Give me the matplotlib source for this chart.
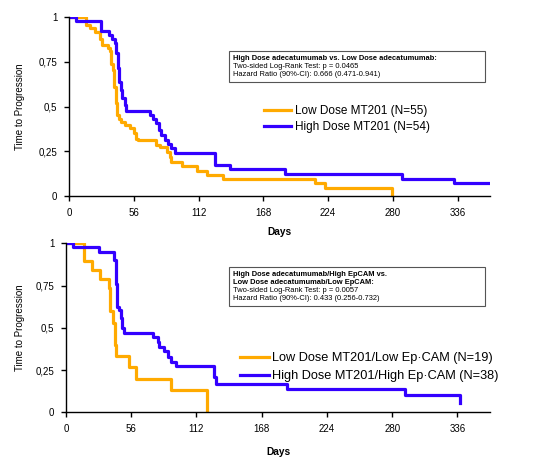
import matplotlib
matplotlib.use("Agg")
import matplotlib.pyplot as plt

plt.rcParams['font.family'] = ['Liberation Sans', 'DejaVu Sans']

# top panel: all patients
top_low_t = [0, 15, 17.9, 22.2, 26.6, 28.9, 33.8, 35.2, 36.7, 38.1, 39, 40.4, 41.6, 43.3,
             45.3, 48.2, 52.5, 56, 58.3, 59.8, 75.6, 78.5, 84.3, 87.2, 88.6, 97.3, 110.3,
             119, 133.4, 212.7, 221, 279]
top_low_s = [1, 0.957, 0.94, 0.92, 0.88, 0.845, 0.826, 0.81, 0.74, 0.705, 0.61, 0.52, 0.45, 0.43,
             0.415, 0.396, 0.378, 0.35, 0.32, 0.31, 0.284, 0.275, 0.247, 0.219, 0.19, 0.168, 0.138,
             0.116, 0.091, 0.07, 0.045, 0]
top_high_t = [0, 6.4, 28, 35, 37.5, 39.6, 41, 42.5, 43.3, 44.8, 46.2, 48.2, 49.7, 70, 72.2,
              75.6, 77.9, 79.9, 82.9, 85.7, 88.6, 91.5, 126, 139, 187, 288, 332.5, 364]
top_high_s = [1, 0.98, 0.925, 0.90, 0.88, 0.854, 0.80, 0.714, 0.64, 0.59, 0.55, 0.51, 0.475, 0.455, 0.43,
              0.405, 0.37, 0.34, 0.31, 0.29, 0.27, 0.24, 0.17, 0.148, 0.122, 0.094, 0.07, 0.07]

# bottom panel: EpCAM subgroups
bot_low_t = [0, 15.6, 22.3, 28.9, 36.8, 38.2, 40.2, 41.7, 42.5, 54.1, 59.9, 90.3, 120.7]
bot_low_s = [1, 0.895, 0.842, 0.789, 0.737, 0.6, 0.527, 0.40, 0.335, 0.266, 0.197, 0.132, 0]
bot_high_t = [0, 5.8, 28, 41, 42.5, 43.4, 45.4, 46.9, 48.3, 49.8, 74.4, 78.7, 80.2, 84.5,
              87.4, 90.3, 94.6, 127.4, 128.5, 190, 291, 338.5]
bot_high_s = [1, 0.976, 0.95, 0.90, 0.76, 0.625, 0.605, 0.556, 0.497, 0.467, 0.448, 0.418, 0.389, 0.36,
              0.33, 0.30, 0.274, 0.211, 0.17, 0.138, 0.102, 0.053]

xticks = [0, 56, 112, 168, 224, 280, 336]
yticks = [0, 0.25, 0.5, 0.75, 1]
ytick_labels = ["0", "0,25", "0,5", "0,75", "1"]

top_labels = ["Low Dose MT201 (N=55)", "High Dose MT201 (N=54)"]
bot_labels = ["Low Dose MT201/Low Ep\u00b7CAM (N=19)", "High Dose MT201/High Ep\u00b7CAM (N=38)"]
top_box = ["High Dose adecatumumab vs. Low Dose adecatumumab:",
           "Two-sided Log-Rank Test: p = 0.0465",
           "Hazard Ratio (90%-CI): 0.666 (0.471-0.941)"]
bot_box = ["High Dose adecatumumab/High EpCAM vs.",
           "Low Dose adecatumumab/Low EpCAM:",
           "Two-sided Log-Rank Test: p = 0.0057",
           "Hazard Ratio (90%-CI): 0.433 (0.256-0.732)"]

ORANGE = "#FFAA00"
BLUE = "#3300FF"

W, H = 535, 463
fig = plt.figure(figsize=(W / 100, H / 100), dpi=100)


def px_axes(l, t, r, b):
    return fig.add_axes([l / W, 1 - b / H, (r - l) / W, (b - t) / H])


def style(ax, ylab_x, xlab_y):
    ax.set_xlim(0, 364)
    ax.set_ylim(0, 1)
    for s in ("top", "right"):
        ax.spines[s].set_visible(False)
    for s in ("left", "bottom"):
        ax.spines[s].set_linewidth(1.0)
    ax.set_xticks(xticks)
    ax.set_yticks(yticks)
    ax.set_yticklabels(ytick_labels)
    ax.tick_params(direction="out", length=3.5, width=1, labelsize=7, pad=5)
    ax.set_ylabel("Time to Progression", fontsize=7)
    ax.yaxis.set_label_coords(ylab_x, 0.5)
    ax.set_xlabel("Days", fontsize=7.3, fontweight="bold")
    ax.xaxis.set_label_coords(0.5, xlab_y)


def textbox(l, t, r, b, lines, nbold):
    fig.patches.append(plt.Rectangle((l / W, 1 - b / H), (r - l) / W, (b - t) / H,
                                     transform=fig.transFigure, fill=False,
                                     edgecolor="#555555", linewidth=0.8))
    step = (b - t - 6) / len(lines)
    for i, line in enumerate(lines):
        y = t + 3 + step * (i + 0.5)
        fig.text((l + 4) / W, 1 - y / H, line, fontsize=5.4, va="center", ha="left",
                 fontweight="bold" if i < nbold else "normal")


# top panel
ax1 = px_axes(69, 17.3, 490, 195.7)
ax1.step(top_low_t, top_low_s, where="post", color=ORANGE, lw=2.3, label=top_labels[0])
ax1.step(top_high_t, top_high_s, where="post", color=BLUE, lw=2.3, label=top_labels[1])
style(ax1, -0.105, -0.175)
ax1.legend(loc="upper left", bbox_to_anchor=((264 - 69) / 421, 1 - (105 - 17.3) / 178.4),
           frameon=False, fontsize=8.5, handlelength=2.3, handletextpad=0.3,
           labelspacing=0.32, borderaxespad=0, borderpad=0)
textbox(229, 51, 485, 81.7, top_box, 1)

# bottom panel
ax2 = px_axes(66, 243.3, 490, 412.3)
ax2.step(bot_low_t, bot_low_s, where="post", color=ORANGE, lw=2.3, label=bot_labels[0])
ax2.step(bot_high_t, bot_high_s, where="post", color=BLUE, lw=2.3, label=bot_labels[1])
style(ax2, -0.097, -0.204)
ax2.legend(loc="upper left", bbox_to_anchor=((240 - 66) / 424, 1 - (352 - 243.3) / 169),
           frameon=False, fontsize=9.2, handlelength=2.3, handletextpad=0.2,
           labelspacing=0.48, borderaxespad=0, borderpad=0)
textbox(229, 267, 485, 306, bot_box, 2)

fig.savefig("out.png", dpi=100)
